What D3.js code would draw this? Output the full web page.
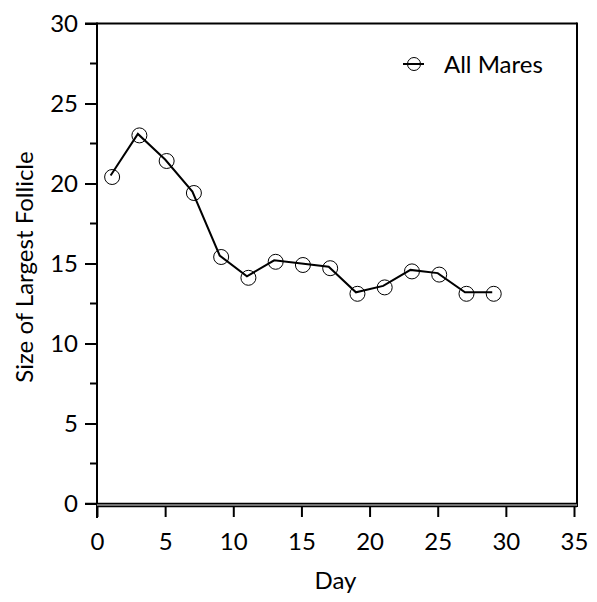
<!DOCTYPE html>
<html><head><meta charset="utf-8">
<script src="https://cdn.jsdelivr.net/npm/d3@7"></script>
<style>body{margin:0;background:#fff;} svg{display:block;} text{font-family:Lato, "Open Sans", sans-serif; fill:#000;}</style>
</head><body>
<svg id="c" width="597" height="602"></svg>
<script>
const days = [1,3,5,7,9,11,13,15,17,19,21,23,25,27,29];
const sizes = [20.5,23.1,21.5,19.5,15.5,14.2,15.2,15.0,14.8,13.2,13.6,14.6,14.4,13.2,13.2];
const xTicks = [0,5,10,15,20,25,30,35];
const yTicks = [0,5,10,15,20,25,30];
const yMinor = [2.5,7.5,12.5,17.5,22.5,27.5];
const seriesName = "All Mares";
const xTitle = "Day", yTitle = "Size of Largest Follicle";
const FS = 24;

const svg = d3.select("#c");
const x = d3.scaleLinear().domain([0,35]).range([97,574]);
const y = d3.scaleLinear().domain([0,30]).range([503.5,23.5]);

// frame top & right
svg.append("line").attr("x1",85).attr("x2",577).attr("y1",y(30)).attr("y2",y(30)).attr("stroke","#000").attr("stroke-width",2);
svg.append("line").attr("x1",577).attr("x2",577).attr("y1",y(30)-1).attr("y2",507).attr("stroke","#000").attr("stroke-width",2);

// y axis
const ya = svg.append("g").attr("transform","translate(97,0)")
  .call(d3.axisLeft(y).tickValues(yTicks).tickSize(12).tickPadding(7).tickFormat(d3.format("d")));
ya.select(".domain").remove();
ya.selectAll(".tick line").attr("stroke","#000").attr("stroke-width",2);
ya.selectAll(".tick text").attr("font-size",FS).attr("font-family","Lato, sans-serif").attr("fill","#000");
svg.append("g").selectAll("line").data(yMinor).join("line")
  .attr("x1",90).attr("x2",97).attr("y1",d=>y(d)).attr("y2",d=>y(d)).attr("stroke","#000").attr("stroke-width",2);
svg.append("line").attr("x1",97).attr("x2",97).attr("y1",y(30)-1).attr("y2",518).attr("stroke","#000").attr("stroke-width",2);

// x axis double line
svg.append("rect").attr("x",97).attr("y",503).attr("width",480).attr("height",4).attr("fill","#999");
svg.append("line").attr("x1",85).attr("x2",577).attr("y1",503.5).attr("y2",503.5).attr("stroke","#000").attr("stroke-width",1.5);
svg.append("line").attr("x1",97).attr("x2",577).attr("y1",506.5).attr("y2",506.5).attr("stroke","#000").attr("stroke-width",1.5);
const xa = svg.append("g").attr("transform","translate(0,507)")
  .call(d3.axisBottom(x).tickValues(xTicks).tickSize(10).tickPadding(16).tickFormat(d3.format("d")));
xa.select(".domain").remove();
xa.selectAll(".tick line").attr("stroke","#000").attr("stroke-width",2);
xa.selectAll(".tick text").attr("font-size",FS).attr("font-family","Lato, sans-serif").attr("fill","#000");

// titles
svg.append("text").attr("x",(x(0)+x(35))/2).attr("y",589).attr("text-anchor","middle").attr("font-size",FS).attr("fill","#000").text(xTitle);
svg.append("text").attr("transform","translate(33,267) rotate(-90)").attr("text-anchor","middle").attr("font-size",FS).attr("fill","#000").text(yTitle);

// series
const pts = days.map((d,i)=>[d,sizes[i]]);
svg.append("path").datum(pts).attr("fill","none").attr("stroke","#000").attr("stroke-width",2)
  .attr("d", d3.line().x(d=>x(d[0])).y(d=>y(d[1])));
svg.append("g").selectAll("circle").data(pts).join("circle")
  .attr("cx",d=>x(d[0])+1.5).attr("cy",d=>y(d[1])+1.5).attr("r",7.5)
  .attr("fill","none").attr("stroke","#000").attr("stroke-width",1);

// legend
const lg = svg.append("g");
lg.append("line").attr("x1",403).attr("x2",424).attr("y1",64).attr("y2",64).attr("stroke","#000").attr("stroke-width",2);
lg.append("circle").attr("cx",414).attr("cy",64).attr("r",6.5).attr("fill","none").attr("stroke","#000").attr("stroke-width",1);
lg.append("text").attr("x",444).attr("y",73).attr("font-size",FS).attr("fill","#000").text(seriesName);
</script>
</body></html>
